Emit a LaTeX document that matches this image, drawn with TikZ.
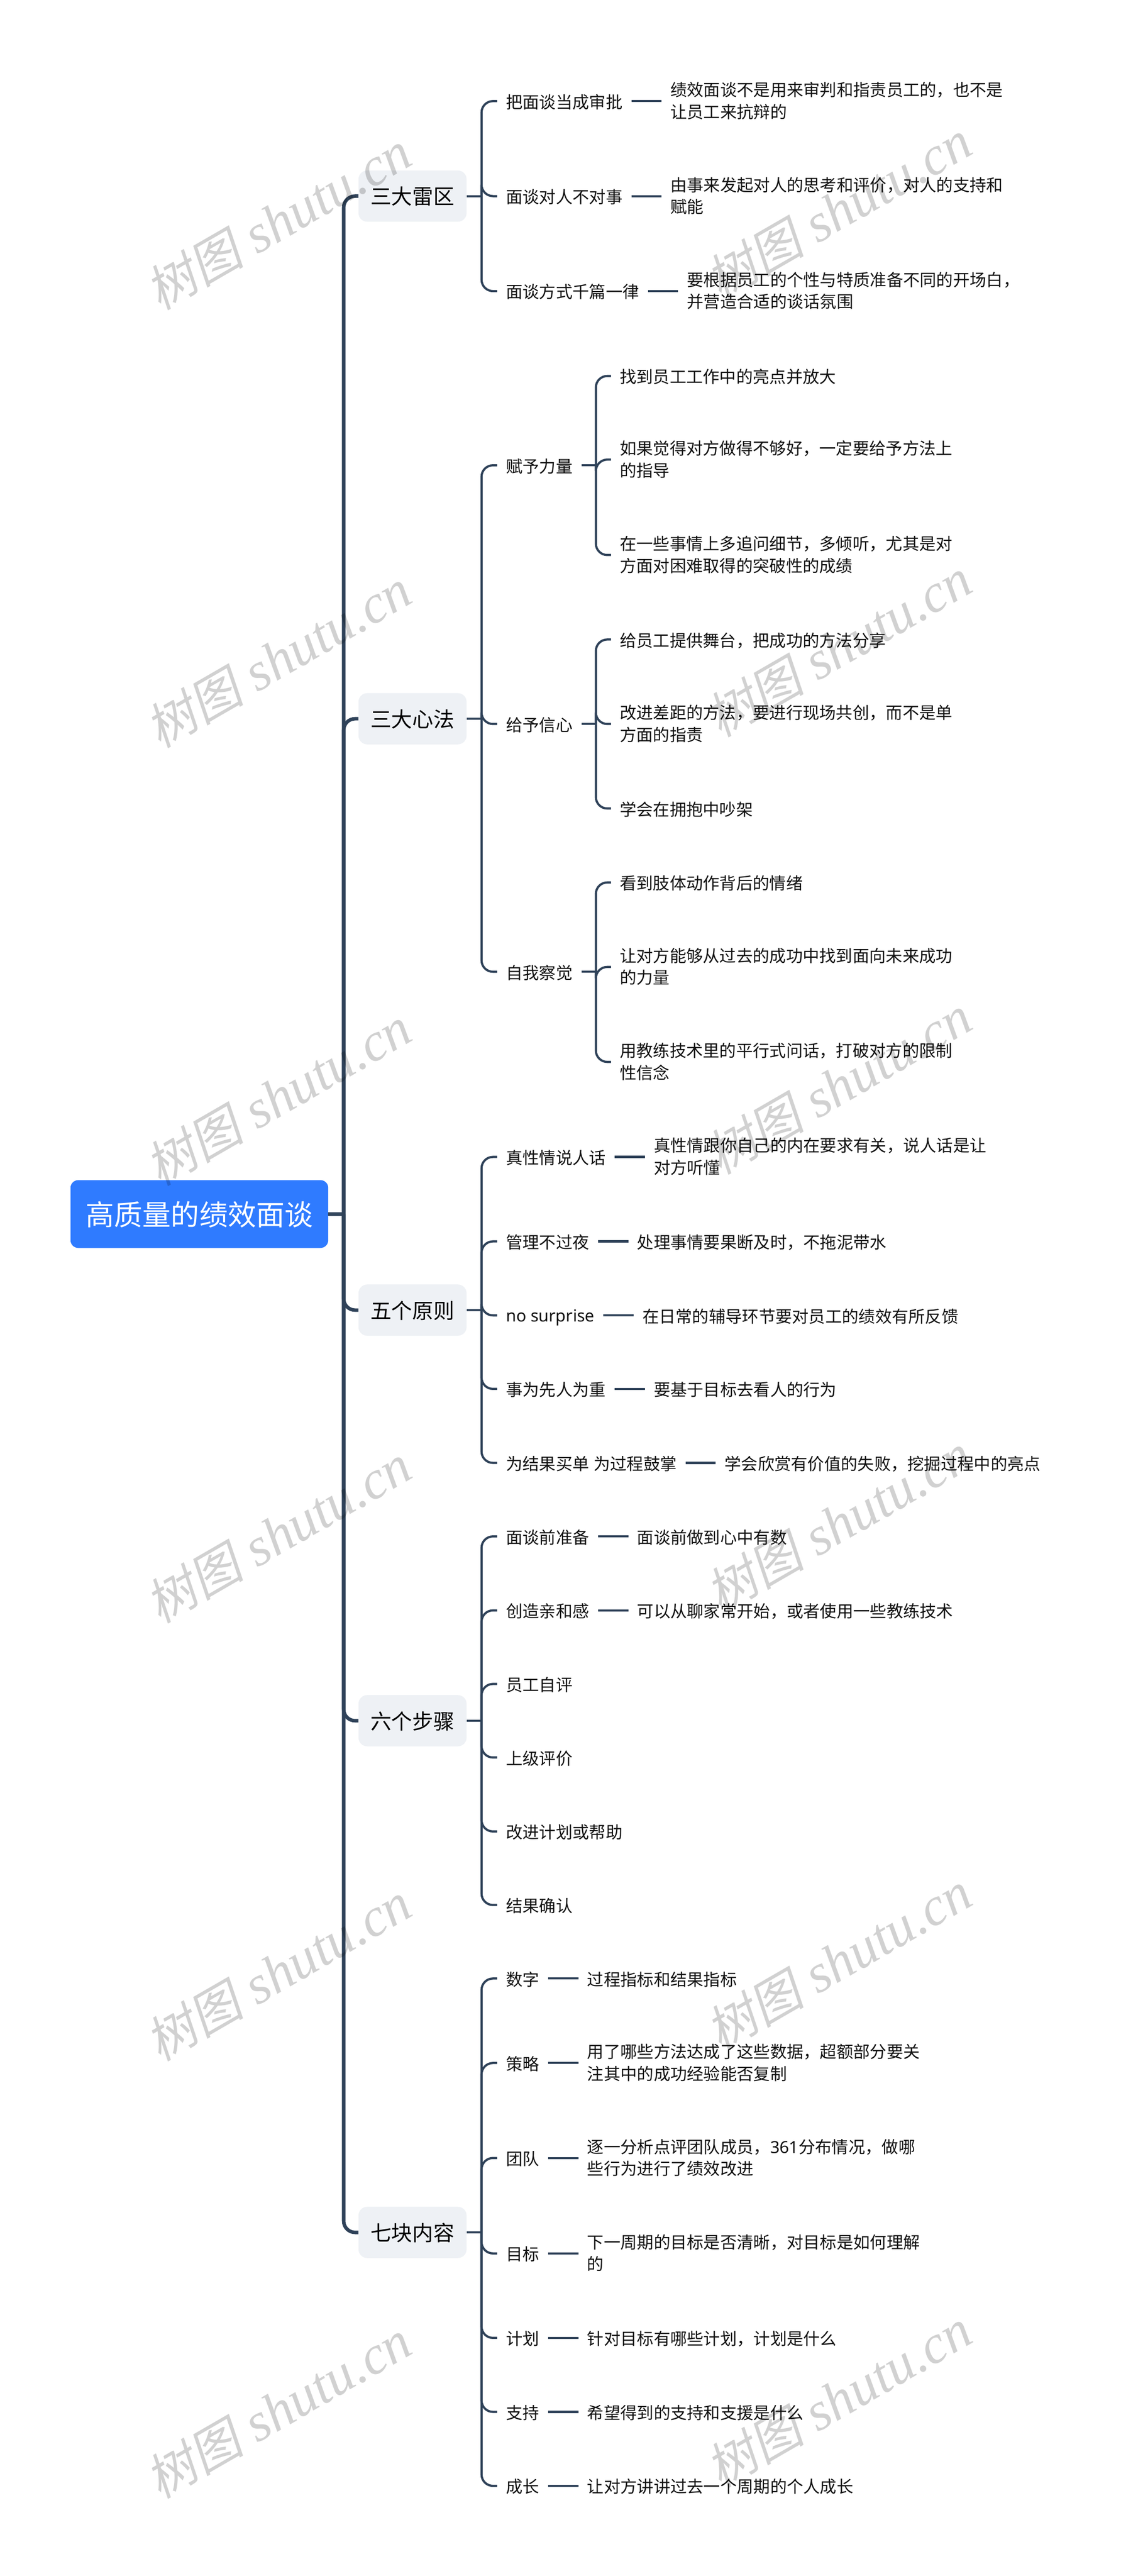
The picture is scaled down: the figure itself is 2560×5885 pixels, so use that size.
\documentclass[tikz,border=0pt]{standalone}
\usepackage{fontspec}
\setmainfont{Noto Sans CJK SC}
\newfontfamily\latfont{Noto Sans}
\newfontfamily\markfont[FakeSlant=0.2]{Noto Sans CJK SC}
\newfontfamily\marklat{Liberation Serif}
\usetikzlibrary{positioning}
\definecolor{linecol}{HTML}{2F4259}
\definecolor{mainfill}{HTML}{EEF1F5}
\definecolor{rootfill}{HTML}{2F7BFF}
\definecolor{subtext}{HTML}{111111}
\def\lineup{\rule[-4.6pt]{0pt}{42pt}}
\tikzset{
	rootnode/.style={fill=rootfill,text=white,rounded corners=18pt,inner sep=0pt,
		minimum width=589pt,minimum height=155pt,text height=59pt,text depth=8pt,
		font=\fontsize{65pt}{70pt}\selectfont},
	mainnode/.style={fill=mainfill,text=black,rounded corners=20pt,inner sep=0pt,
		minimum width=247pt,minimum height=117pt,text height=44pt,text depth=6pt,
		font=\fontsize{48pt}{56pt}\selectfont},
	subnode/.style={anchor=west,text=subtext,inner xsep=20pt,inner ysep=0pt,align=left,
		execute at begin node=\lineup,execute at end node=\lineup,
		font=\fontsize{38pt}{50pt}\selectfont},
	mainline/.style={color=linecol,line width=8pt,rounded corners=26pt},
	subline/.style={color=linecol,line width=5pt,rounded corners=26pt},
	wmark/.style={rotate=30,text=black,text opacity=0.18,inner sep=0pt,
		font=\fontsize{113pt}{130pt}\selectfont},
}
\begin{document}
\begin{tikzpicture}[x=1pt,y=-1pt]
\fill[white] (0,0) rectangle (2560,5885);
\node[rootnode] (root) at (455.5,2773.5) {高质量的绩效面谈};
\coordinate[right=35pt of root] (rootbus);
\draw[mainline] (root.east) -- (rootbus);
\foreach \nam/\ypos/\txt in {lei/448/三大雷区,xin/1642/三大心法,yuan/2993/五个原则,bu/3931/六个步骤,kuai/5100/七块内容}{
	\node[mainnode] (\nam) at (942.5,\ypos) {\txt};
	\draw[mainline] (rootbus) |- (\nam.west);
	\coordinate[right=34pt of \nam] (\nam bus);
	\draw[subline] (\nam.east) -- (\nam bus);
}
\foreach \up/\nam/\ypos/\txt in {
	lei/leia/231/把面谈当成审批,
	lei/leib/448/面谈对人不对事,
	lei/leic/665/面谈方式千篇一律,
	xin/fu/1063/赋予力量,
	xin/gei/1654/给予信心,
	xin/zi/2220/自我察觉,
	yuan/yuana/2643/真性情说人话,
	yuan/yuanb/2836/管理不过夜,
	yuan/yuanc/3005/{\latfont no surprise},
	yuan/yuand/3173/事为先人为重,
	yuan/yuane/3342/为结果买单{\latfont\ }为过程鼓掌,
	bu/bua/3510/面谈前准备,
	bu/bub/3679/创造亲和感,
	bu/buc/3847/员工自评,
	bu/bud/4015/上级评价,
	bu/bue/4184/改进计划或帮助,
	bu/buf/4352/结果确认,
	kuai/kuaia/4520/数字,
	kuai/kuaib/4713/策略,
	kuai/kuaic/4930/团队,
	kuai/kuaid/5148/目标,
	kuai/kuaie/5341/计划,
	kuai/kuaif/5510/支持,
	kuai/kuaig/5679/成长}{
	\node[subnode] (\nam) at (1136,\ypos) {\txt};
	\draw[subline] (\up bus) |- (\nam.west);
}
\foreach \up/\nam/\txt in {
	leia/dleia/绩效面谈不是用来审判和指责员工的，也不是\\让员工来抗辩的,
	leib/dleib/由事来发起对人的思考和评价，对人的支持和\\赋能,
	leic/dleic/要根据员工的个性与特质准备不同的开场白，\\并营造合适的谈话氛围,
	yuana/dyuana/真性情跟你自己的内在要求有关，说人话是让\\对方听懂,
	yuanb/dyuanb/处理事情要果断及时，不拖泥带水,
	yuanc/dyuanc/在日常的辅导环节要对员工的绩效有所反馈,
	yuand/dyuand/要基于目标去看人的行为,
	yuane/dyuane/学会欣赏有价值的失败，挖掘过程中的亮点,
	bua/dbua/面谈前做到心中有数,
	bub/dbub/可以从聊家常开始，或者使用一些教练技术,
	kuaia/dkuaia/过程指标和结果指标,
	kuaib/dkuaib/用了哪些方法达成了这些数据，超额部分要关\\注其中的成功经验能否复制,
	kuaic/dkuaic/逐一分析点评团队成员，{\latfont 361}分布情况，做哪\\些行为进行了绩效改进,
	kuaid/dkuaid/下一周期的目标是否清晰，对目标是如何理解\\的,
	kuaie/dkuaie/针对目标有哪些计划，计划是什么,
	kuaif/dkuaif/希望得到的支持和支援是什么,
	kuaig/dkuaig/让对方讲讲过去一个周期的个人成长}{
	\node[subnode,right=69pt of \up] (\nam) {\txt};
	\draw[subline] (\up.east) -- (\nam.west);
}
\foreach \up in {fu,gei,zi}{
	\coordinate[right=33pt of \up] (\up bus);
	\draw[subline] (\up.east) -- (\up bus);
}
\foreach \up/\nam/\ypos/\txt in {
	fu/fua/859/找到员工工作中的亮点并放大,
	fu/fub/1050/如果觉得对方做得不够好，一定要给予方法上\\的指导,
	fu/fuc/1268/在一些事情上多追问细节，多倾听，尤其是对\\方面对困难取得的突破性的成绩,
	gei/geia/1461/给员工提供舞台，把成功的方法分享,
	gei/geib/1654/改进差距的方法，要进行现场共创，而不是单\\方面的指责,
	gei/geic/1847/学会在拥抱中吵架,
	zi/zia/2016/看到肢体动作背后的情绪,
	zi/zib/2209/让对方能够从过去的成功中找到面向未来成功\\的力量,
	zi/zic/2426/用教练技术里的平行式问话，打破对方的限制\\性信念}{
	\node[subnode] (\nam) at (1396,\ypos) {\txt};
	\draw[subline] (\up bus) |- (\nam.west);
}
\foreach \row in {0,...,5}{
	\node[wmark] (marka\row) at ({636},{505+1000*\row}) {\markfont 树图\marklat\fontsize{124pt}{130pt}\selectfont\itshape\ shutu.cn};
	\node[wmark] (markb\row) at ({1916},{480+1000*\row}) {\markfont 树图\marklat\fontsize{124pt}{130pt}\selectfont\itshape\ shutu.cn};
}
\end{tikzpicture}
\end{document}
